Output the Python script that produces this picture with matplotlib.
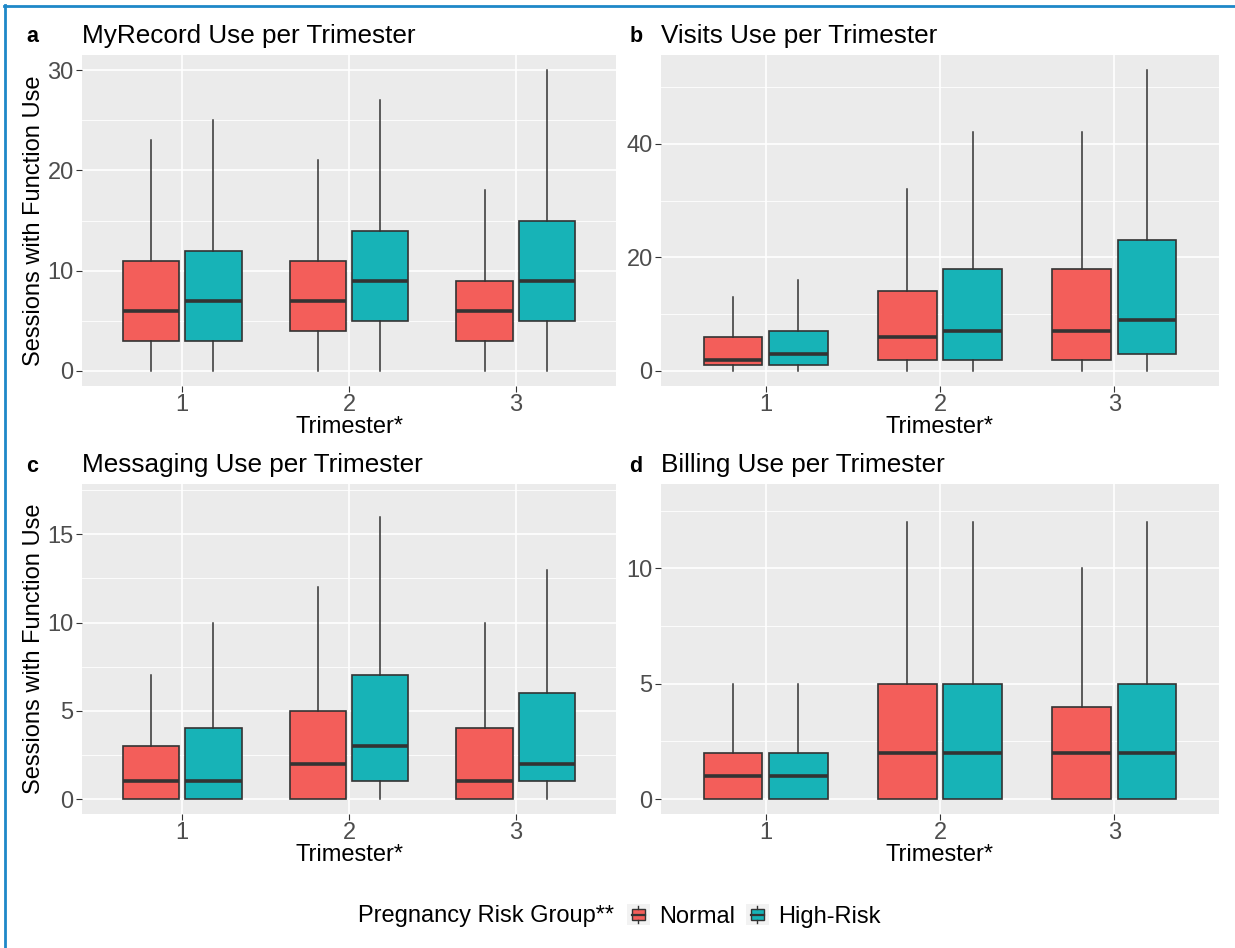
import matplotlib
matplotlib.use("Agg")
import matplotlib.pyplot as plt
from matplotlib.patches import Rectangle, Patch
from matplotlib.lines import Line2D
from matplotlib.legend_handler import HandlerBase

plt.rcParams['font.family'] = ['Liberation Sans', 'DejaVu Sans']

W, H = 1235, 948

trimesters = ['1', '2', '3']
groups = ['Normal', 'High-Risk']
group_colors = ['#F35E5A', '#17B3B7']

# (whisker low, q1, median, q3, whisker high) for trimesters 1, 2, 3
myrecord_normal = [(0, 3, 6, 11, 23), (0, 4, 7, 11, 21), (0, 3, 6, 9, 18)]
myrecord_high = [(0, 3, 7, 12, 25), (0, 5, 9, 14, 27), (0, 5, 9, 15, 30)]
visits_normal = [(0, 1, 2, 6, 13), (0, 2, 6, 14, 32), (0, 2, 7, 18, 42)]
visits_high = [(0, 1, 3, 7, 16), (0, 2, 7, 18, 42), (0, 3, 9, 23, 53)]
messaging_normal = [(0, 0, 1, 3, 7), (0, 0, 2, 5, 12), (0, 0, 1, 4, 10)]
messaging_high = [(0, 0, 1, 4, 10), (0, 1, 3, 7, 16), (0, 1, 2, 6, 13)]
billing_normal = [(0, 0, 1, 2, 5), (0, 0, 2, 5, 12), (0, 0, 2, 4, 10)]
billing_high = [(0, 0, 1, 2, 5), (0, 0, 2, 5, 12), (0, 0, 2, 5, 12)]

tags = ['a', 'b', 'c', 'd']
titles = ['MyRecord Use per Trimester', 'Visits Use per Trimester',
          'Messaging Use per Trimester', 'Billing Use per Trimester']
panel_data = [(myrecord_normal, myrecord_high), (visits_normal, visits_high),
              (messaging_normal, messaging_high), (billing_normal, billing_high)]
y_limits = [(0, 30), (0, 53), (0, 17), (0, 13)]
major_ticks = [[0, 10, 20, 30], [0, 20, 40], [0, 5, 10, 15], [0, 5, 10]]
minor_ticks = [[5, 15, 25], [10, 30, 50], [2.5, 7.5, 12.5, 17.5], [2.5, 7.5, 12.5]]

# panel boxes in pixels: left, right, top, bottom
cols = [(82, 616), (661, 1219)]
rows = [(55, 386), (484, 814)]
tag_x = [32, 636]

edge = '#333333'
fs = 17
fig = plt.figure(figsize=(W / 100, H / 100), dpi=100)

for k in range(4):
    r, c = divmod(k, 2)
    (x0, x1), (y0, y1) = cols[c], rows[r]
    ax = fig.add_axes([x0 / W, 1 - y1 / H, (x1 - x0) / W, (y1 - y0) / H])
    ax.set_facecolor('#EBEBEB')
    for s in ax.spines.values():
        s.set_visible(False)

    for g, series in enumerate(panel_data[k]):
        stats = [dict(whislo=v[0], q1=v[1], med=v[2], q3=v[3], whishi=v[4], fliers=[])
                 for v in series]
        pos = [i + 1 + (-0.1875 if g == 0 else 0.1875) for i in range(len(series))]
        ax.bxp(stats, positions=pos, widths=0.3375, patch_artist=True,
               showcaps=False, showfliers=False, manage_ticks=False,
               boxprops=dict(facecolor=group_colors[g], edgecolor=edge, linewidth=1.2),
               medianprops=dict(color=edge, linewidth=2.6, solid_capstyle='butt'),
               whiskerprops=dict(color=edge, linewidth=1.1),
               zorder=3)

    lo, hi = y_limits[k]
    pad = 0.05 * (hi - lo)
    ax.set_ylim(lo - pad, hi + pad)
    ax.set_xlim(0.4, 3.6)
    ax.set_xticks([1, 2, 3])
    ax.set_xticklabels(trimesters)
    ax.set_yticks(major_ticks[k])
    ax.set_yticks(minor_ticks[k], minor=True)
    ax.grid(True, which='major', color='white', linewidth=1.2, zorder=0)
    ax.grid(True, which='minor', axis='y', color='white', linewidth=0.6, zorder=0)
    ax.set_axisbelow(True)
    ax.tick_params(which='major', length=4, width=0.8, color=edge,
                   labelsize=fs, labelcolor='#4D4D4D', pad=2)
    ax.tick_params(which='minor', length=0)

    # titles, tags and axis titles
    fig.text(tag_x[c] / W, 1 - (y0 - 18) / H, tags[k], fontsize=15.5,
             fontweight='bold', ha='center', va='center')
    fig.text(x0 / W, 1 - (y0 - 19) / H, titles[k], fontsize=18.8,
             ha='left', va='center')
    fig.text((x0 + x1) / 2 / W, 1 - (y1 + 41) / H, 'Trimester*', fontsize=fs,
             ha='center', va='center')
    if c == 0:
        fig.text(34 / W, 1 - (y0 + y1) / 2 / H, 'Sessions with Function Use',
                 fontsize=fs, rotation=90, ha='center', va='center')


class BoxKey(HandlerBase):
    def create_artists(self, legend, orig_handle, xdescent, ydescent,
                       width, height, fontsize, trans):
        x, y = -xdescent, -ydescent
        fc = orig_handle.get_facecolor()
        bg = Rectangle((x, y), width, height, facecolor='#F2F2F2',
                       edgecolor='none', transform=trans)
        box = Rectangle((x + 0.2 * width, y + 0.25 * height), 0.6 * width,
                        0.5 * height, facecolor=fc, edgecolor=edge, lw=1.0,
                        transform=trans)
        med = Line2D([x + 0.2 * width, x + 0.8 * width], [y + 0.5 * height] * 2,
                     color=edge, lw=1.6, transform=trans)
        w1 = Line2D([x + 0.5 * width] * 2, [y + 0.1 * height, y + 0.25 * height],
                    color=edge, lw=1.0, transform=trans)
        w2 = Line2D([x + 0.5 * width] * 2, [y + 0.75 * height, y + 0.9 * height],
                    color=edge, lw=1.0, transform=trans)
        return [bg, box, med, w1, w2]


fig.text(358 / W, 1 - 916 / H, 'Pregnancy Risk Group**', fontsize=fs,
         ha='left', va='center')
handles = [Patch(facecolor=col) for col in group_colors]
fig.legend(handles, groups, loc='center left', bbox_to_anchor=(606 / W, 1 - 916 / H),
           ncol=2, frameon=False, fontsize=fs, handlelength=0.95, handleheight=1.0,
           handletextpad=0.42, columnspacing=0.45,
           handler_map={Patch: BoxKey()})

# blue frame on the top and left edge
border = '#1E88C8'
fig.add_artist(Line2D([4 / W, 1], [1 - 5.5 / H] * 2, color=border, lw=2.0,
                      transform=fig.transFigure))
fig.add_artist(Line2D([5 / W] * 2, [0, 1 - 4.5 / H], color=border, lw=2.0,
                      transform=fig.transFigure))

fig.savefig('out.png', dpi=100, facecolor='white')
